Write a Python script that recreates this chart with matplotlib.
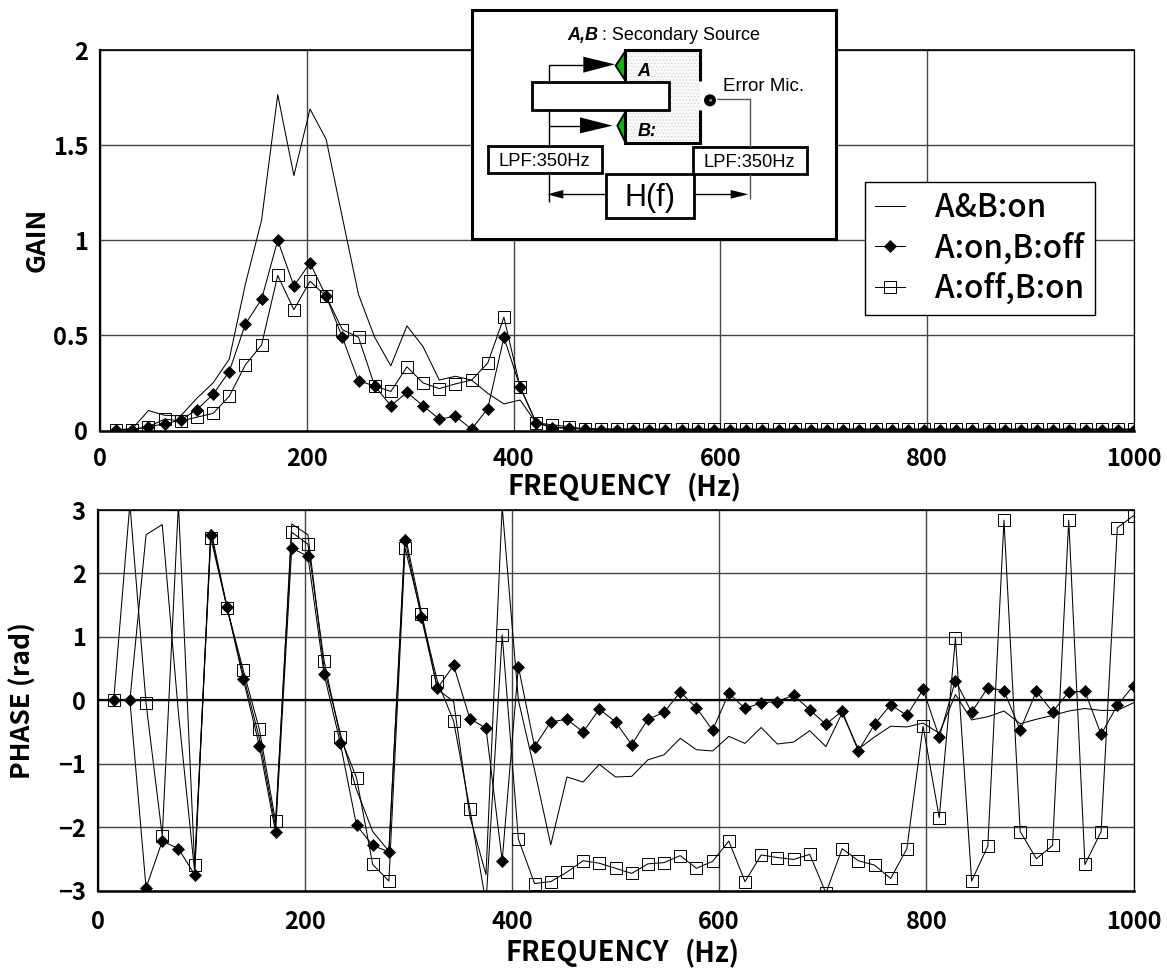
import matplotlib
matplotlib.use('Agg')
import matplotlib.pyplot as plt
from matplotlib.patches import Rectangle, Polygon, Circle

plt.rcParams['font.family'] = ['Noto Sans CJK JP', 'DejaVu Sans']
plt.rcParams['hatch.linewidth'] = 0.3
plt.rcParams['hatch.color'] = '#c8c8c8'

# frequency bins, both panels
freq = [15.625, 31.25, 46.875, 62.5, 78.125, 93.75, 109.375, 125, 140.625, 156.25, 171.875, 187.5, 203.125, 218.75,
        234.375, 250, 265.625, 281.25, 296.875, 312.5, 328.125, 343.75, 359.375, 375, 390.625, 406.25, 421.875, 437.5,
        453.125, 468.75, 484.375, 500, 515.625, 531.25, 546.875, 562.5, 578.125, 593.75, 609.375, 625, 640.625, 656.25,
        671.875, 687.5, 703.125, 718.75, 734.375, 750, 765.625, 781.25, 796.875, 812.5, 828.125, 843.75, 859.375, 875,
        890.625, 906.25, 921.875, 937.5, 953.125, 968.75, 984.375, 1000]

# gain
gain_ab = [0.003, 0.01, 0.105, 0.08, 0.077, 0.17, 0.25, 0.375, 0.77, 1.105, 1.765, 1.34, 1.69, 1.53,
           1.12, 0.715, 0.49, 0.34, 0.55, 0.44, 0.265, 0.285, 0.265, 0.195, 0.14, 0.16, 0.04, 0.02,
           0.012, 0.01, 0.008, 0.006, 0.006, 0.005, 0.005, 0.005, 0.005, 0.005, 0.005, 0.005, 0.005, 0.005,
           0.005, 0.005, 0.005, 0.005, 0.005, 0.005, 0.005, 0.005, 0.005, 0.005, 0.005, 0.005, 0.005, 0.005,
           0.005, 0.005, 0.005, 0.005, 0.005, 0.005, 0.005, 0.005]
gain_a = [0.005, 0.005, 0.02, 0.035, 0.055, 0.11, 0.19, 0.31, 0.56, 0.69, 1.0, 0.76, 0.88, 0.705,
          0.49, 0.26, 0.235, 0.13, 0.20, 0.13, 0.06, 0.075, 0.007, 0.115, 0.49, 0.23, 0.04, 0.015,
          0.012, 0.006, 0.004, 0.004, 0.004, 0.004, 0.004, 0.004, 0.004, 0.004, 0.004, 0.004, 0.004, 0.004,
          0.004, 0.004, 0.004, 0.004, 0.004, 0.004, 0.004, 0.004, 0.004, 0.004, 0.004, 0.004, 0.004, 0.004,
          0.004, 0.004, 0.004, 0.004, 0.004, 0.004, 0.004, 0.004]
gain_b = [0.005, 0.005, 0.02, 0.06, 0.05, 0.07, 0.09, 0.18, 0.345, 0.45, 0.815, 0.635, 0.785, 0.705,
          0.53, 0.49, 0.235, 0.205, 0.335, 0.25, 0.22, 0.245, 0.265, 0.355, 0.595, 0.23, 0.04, 0.03,
          0.02, 0.008, 0.008, 0.008, 0.008, 0.008, 0.008, 0.008, 0.008, 0.008, 0.008, 0.008, 0.008, 0.008,
          0.008, 0.008, 0.008, 0.008, 0.008, 0.008, 0.008, 0.008, 0.008, 0.008, 0.008, 0.008, 0.008, 0.008,
          0.008, 0.008, 0.008, 0.008, 0.008, 0.008, 0.008, 0.008]

# phase
phase_ab = [0, 0, 2.61, 2.77, -0.2, -2.7, 2.69, 1.47, 0.40, -0.6, -2.0, 2.78, 2.61, 0.5,
            -0.52, -1.41, -2.07, -2.38, 2.61, 1.40, 0.17, -0.02, -1.83, -2.75, 3.05, 0.0, -1.1, -2.28,
            -1.21, -1.29, -1.01, -1.21, -1.20, -0.94, -0.86, -0.60, -0.78, -0.80, -0.57, -0.68, -0.43, -0.69,
            -0.66, -0.48, -0.73, -0.20, -0.77, -0.58, -0.41, -0.42, -0.36, -0.52, 0.09, -0.31, -0.26, -0.17,
            -0.37, -0.30, -0.24, -0.17, -0.13, -0.16, -0.16, -0.04]
phase_a = [0, 0, -2.96, -2.22, -2.34, -2.75, 2.6, 1.47, 0.34, -0.72, -2.08, 2.40, 2.27, 0.41,
           -0.68, -1.97, -2.29, -2.39, 2.53, 1.31, 0.19, 0.55, -0.29, -0.44, -2.53, 0.53, -0.73, -0.34,
           -0.30, -0.50, -0.14, -0.34, -0.70, -0.30, -0.19, 0.13, -0.12, -0.47, 0.11, -0.13, -0.04, -0.02,
           0.08, -0.15, -0.38, -0.17, -0.80, -0.38, -0.07, -0.24, 0.17, -0.58, 0.31, -0.19, 0.20, 0.15,
           -0.47, 0.14, -0.18, 0.13, 0.14, -0.54, -0.08, 0.23]
phase_b = [0, 3.1, -0.05, -2.14, 3.1, -2.60, 2.56, 1.46, 0.48, -0.46, -1.91, 2.65, 2.46, 0.62,
           -0.58, -1.22, -2.59, -2.85, 2.40, 1.36, 0.30, -0.33, -1.71, -3.2, 1.03, -2.19, -2.89, -2.86,
           -2.71, -2.53, -2.57, -2.65, -2.73, -2.58, -2.56, -2.45, -2.65, -2.54, -2.22, -2.86, -2.44, -2.48,
           -2.51, -2.43, -3.04, -2.34, -2.53, -2.60, -2.81, -2.34, -0.41, -1.85, 0.98, -2.85, -2.30, 2.84,
           -2.07, -2.50, -2.29, 2.84, -2.59, -2.07, 2.72, 2.91]

W, H = 1167, 969
fig = plt.figure(figsize=(W / 100, H / 100), dpi=100)


def panel(left, top, right, bottom):
    return fig.add_axes([left / W, 1 - bottom / H, (right - left) / W, (bottom - top) / H])


def dibujar(ax, ab, a, b, pad_x):
    l1, = ax.plot(freq, ab, color='black', lw=0.75, zorder=3)
    l3, = ax.plot(freq, b, color='black', lw=0.75, marker='s', ms=8, mfc='none', mew=0.7, zorder=4)
    l2, = ax.plot(freq, a, color='black', lw=0.75, marker='D', ms=5.8, mfc='black', mew=0.5, zorder=5)
    ax.set_xlim(0, 1000)
    ax.set_xticks([0, 200, 400, 600, 800, 1000])
    ax.grid(True, color='#444444', lw=1.0)
    ax.set_axisbelow(True)
    ax.tick_params(length=0, labelsize=17)
    ax.tick_params(axis='x', pad=pad_x)
    ax.tick_params(axis='y', pad=8.5)
    for t in ax.get_xticklabels() + ax.get_yticklabels():
        t.set_fontweight('bold')
    ax.spines['left'].set_linewidth(1.6)
    ax.spines['bottom'].set_linewidth(1.8)
    ax.spines['top'].set_linewidth(1.2)
    ax.spines['right'].set_linewidth(0.9)
    return l1, l2, l3


def etiqueta_x(x, y):
    # word and unit are separate so the gap between them can follow the picture
    fig.text(x / W, 1 - y / H, 'FREQUENCY', fontsize=19.6, fontweight='bold', ha='left', va='center')
    fig.text((x + 235) / W, 1 - y / H, '(Hz)', fontsize=19.6, fontweight='bold', ha='right', va='center')


ax1 = panel(100, 50, 1134, 430.5)
l1, l2, l3 = dibujar(ax1, gain_ab, gain_a, gain_b, 12)
ax1.set_ylim(0, 2)
ax1.set_yticks([0, 0.5, 1, 1.5, 2])
ax1.set_yticklabels(['0', '0.5', '1', '1.5', '2'], fontweight='bold')
ax1.set_ylabel('GAIN', fontsize=19, fontweight='bold', va='center')
ax1.yaxis.set_label_coords((37 - 100) / 1034, 0.5)
etiqueta_x(507, 487)

ax2 = panel(97.5, 510, 1133.5, 890.5)
dibujar(ax2, phase_ab, phase_a, phase_b, 14)
ax2.set_ylim(-3, 3)
ax2.set_yticks([-3, -2, -1, 0, 1, 2, 3])
ax2.set_yticklabels(['\u22123', '\u22122', '\u22121', '0', '1', '2', '3'], fontweight='bold')
ax2.axhline(0, color='black', lw=1.6, zorder=2)
ax2.set_ylabel('PHASE (rad)', fontsize=19, fontweight='bold', va='center')
ax2.yaxis.set_label_coords((23 - 97.5) / 1036, 0.5)
etiqueta_x(505, 953)

leg = ax1.legend([l1, l2, l3], ['A&B:on', 'A:on,B:off', 'A:off,B:on'], loc='upper left',
                 bbox_to_anchor=((865.3 - 100) / 1034, 1 - (181.7 - 50) / 380.5), borderaxespad=0,
                 prop={'size': 22.7, 'weight': 'medium'}, fancybox=False, framealpha=1, edgecolor='black',
                 handlelength=0.95, handletextpad=0.95, labelspacing=0.26, borderpad=0.32)
leg.get_frame().set_linewidth(1.0)
leg.set_zorder(10)

# inset schematic, drawn in page pixels
sk = fig.add_axes([0, 0, 1, 1], zorder=20)
sk.set_xlim(0, W)
sk.set_ylim(H, 0)
sk.axis('off')
sk.patch.set_alpha(0)


def px(zx, zy):
    return 460 + zx / 3, zy / 3


def linea(pts, lw=1.0, color='black'):
    xs, ys = zip(*[px(*p) for p in pts])
    sk.plot(xs, ys, color=color, lw=lw, solid_capstyle='butt', solid_joinstyle='miter')


def caja(x0, y0, x1, y1, lw=2.0, fc='white', **kw):
    a, b = px(x0, y0)
    c, d = px(x1, y1)
    sk.add_patch(Rectangle((a, b), c - a, d - b, fc=fc, ec='black', lw=lw, **kw))


def tri(pts, fc='black', lw=0):
    sk.add_patch(Polygon([px(*p) for p in pts], closed=True, fc=fc, ec='black', lw=lw))


def rotulo(zx, zy, s, size, **kw):
    x, y = px(zx, zy)
    sk.text(x, y, s, fontsize=size, family='Liberation Sans', ha='center', va='center', **kw)


caja(35, 30, 1128, 718, lw=2.2)
sk.add_patch(Rectangle(px(495, 150), 225 / 3, 280 / 3, fc='#f8f8f8', ec='#c8c8c8', lw=0, hatch='.....'))
caja(720, 243, 740, 330, lw=0)
linea([(495, 243), (495, 150), (720, 150), (720, 243)], lw=2.2)
linea([(495, 330), (495, 430), (720, 430), (720, 330)], lw=2.2)

tri([(467, 197), (495, 155), (495, 240)], fc='#00c000', lw=1.4)
tri([(472, 377), (495, 338), (495, 425)], fc='#00c000', lw=1.4)
caja(217, 245, 628, 330, lw=2.0)

linea([(267, 243), (267, 195), (370, 195)])
tri([(370, 170), (370, 218), (465, 193)])
linea([(267, 330), (267, 437)])
linea([(267, 377), (360, 377)])
tri([(360, 352), (360, 400), (458, 377)])

caja(83, 437, 425, 520)
caja(700, 440, 1040, 522)
caja(438, 522, 702, 655)
linea([(267, 520), (267, 605)])
linea([(438, 583), (300, 583)])
tri([(262, 583), (310, 570), (310, 596)])
linea([(702, 583), (815, 583)])
tri([(812, 570), (812, 596), (865, 583)])
linea([(870, 522), (870, 597)], color='#555555')
linea([(770, 297), (870, 297), (870, 440)], color='#555555')

sk.add_patch(Circle(px(750, 301), 18 / 3 * 1.0, fc='black', ec='black', lw=0))
sk.add_patch(Circle(px(752, 301), 1.5, fc='#888888', ec='none'))

rotulo(368, 105, 'A,B', 13, fontweight='bold', fontstyle='italic')
rotulo(662, 105, ': Secondary Source', 13)
rotulo(552, 215, 'A', 13, fontweight='bold', fontstyle='italic')
rotulo(562, 393, 'B:', 13, fontweight='bold', fontstyle='italic')
rotulo(910, 258, 'Error Mic.', 13.5)
rotulo(252, 483, 'LPF:350Hz', 13.2)
rotulo(868, 488, 'LPF:350Hz', 13.2)
rotulo(570, 595, 'H(f)', 22)

plt.savefig('out.png', dpi=100)
